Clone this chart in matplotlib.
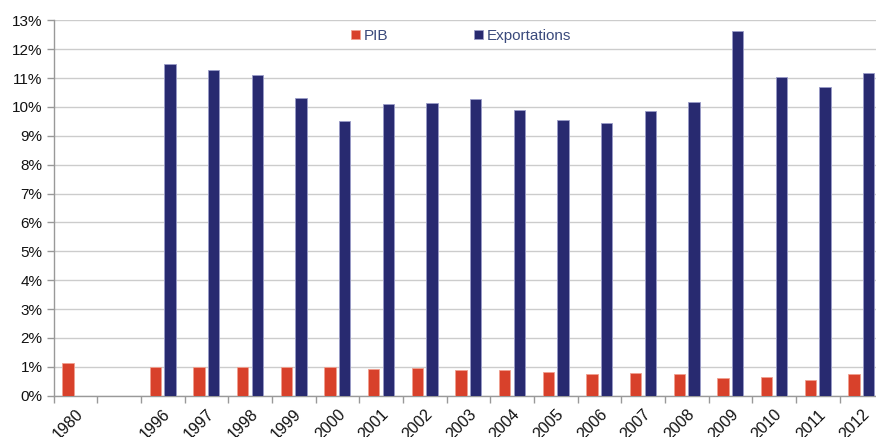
import matplotlib
matplotlib.use("Agg")
import matplotlib.pyplot as plt
import numpy as np
from matplotlib.ticker import FuncFormatter
from matplotlib.transforms import ScaledTranslation

plt.rcParams['font.family'] = ['Liberation Sans', 'DejaVu Sans']

categories = ["1980", "", "1996", "1997", "1998", "1999", "2000", "2001", "2002",
              "2003", "2004", "2005", "2006", "2007", "2008", "2009", "2010",
              "2011", "2012"]
pib = [1.12, None, 0.99, 0.98, 0.99, 0.99, 1.00, 0.92, 0.95, 0.88, 0.89, 0.83,
       0.76, 0.78, 0.75, 0.61, 0.66, 0.55, 0.75]
exportations = [None, None, 11.50, 11.27, 11.11, 10.31, 9.53, 10.09, 10.15, 10.27,
                9.88, 9.55, 9.45, 9.85, 10.16, 12.63, 11.05, 10.68, 11.16]
y_ticks = list(range(0, 14))

pib_color = '#d8412b'
exp_color = '#282a70'

fig = plt.figure(figsize=(8.76, 4.37), dpi=100)
ax = fig.add_axes([53.5 / 876, 1 - 395.7 / 437, 829.7 / 876, (395.7 - 20.3) / 437])

x = np.arange(len(categories))
w = 0.265
off = 0.168
pib_v = np.array([np.nan if v is None else v for v in pib])
exp_v = np.array([np.nan if v is None else v for v in exportations])
ax.bar(x - off, pib_v, width=w, color=pib_color, edgecolor='#f0a090', linewidth=0.6,
       label='PIB', zorder=3)
ax.bar(x + off, exp_v, width=w, color=exp_color, edgecolor='#9a9cc8', linewidth=0.6,
       label='Exportations', zorder=3)

ax.set_xlim(-0.5, len(categories) - 0.5)
ax.set_ylim(0, 13)
ax.set_yticks(y_ticks)
ax.yaxis.set_major_formatter(FuncFormatter(lambda v, p: f"{int(v)}%"))
ax.grid(axis='y', color='#cccccc', linewidth=1.0, zorder=0)
ax.set_axisbelow(True)

ax.set_xticks(x)
ax.set_xticklabels(categories, rotation=45, ha='right', rotation_mode='anchor',
                   fontsize=11.5, color='#111111')
shift = ScaledTranslation(-3 / 100, 0, fig.dpi_scale_trans)
for lab in ax.get_xticklabels():
    lab.set_transform(lab.get_transform() + shift)
ax.set_xticks(np.arange(len(categories) + 1) - 0.5, minor=True)
ax.tick_params(axis='x', which='major', length=0, pad=8)
ax.tick_params(axis='x', which='minor', length=5, color='#999999', width=1)
ax.tick_params(axis='y', length=5, color='#999999', width=1, labelsize=11,
               labelcolor='#111111', pad=3)

for s in ['top', 'right']:
    ax.spines[s].set_visible(False)
for s in ['left', 'bottom']:
    ax.spines[s].set_color('#999999')
    ax.spines[s].set_linewidth(1)

leg = fig.legend(loc='center left', bbox_to_anchor=(351 / 876, 1 - 36 / 437),
                 ncol=2, frameon=False, fontsize=11, handlelength=0.6,
                 handleheight=0.6, handletextpad=0.25, columnspacing=5.57,
                 borderpad=0, borderaxespad=0)
for t in leg.get_texts():
    t.set_color('#3a4a7c')

fig.savefig('out.png', dpi=100)
